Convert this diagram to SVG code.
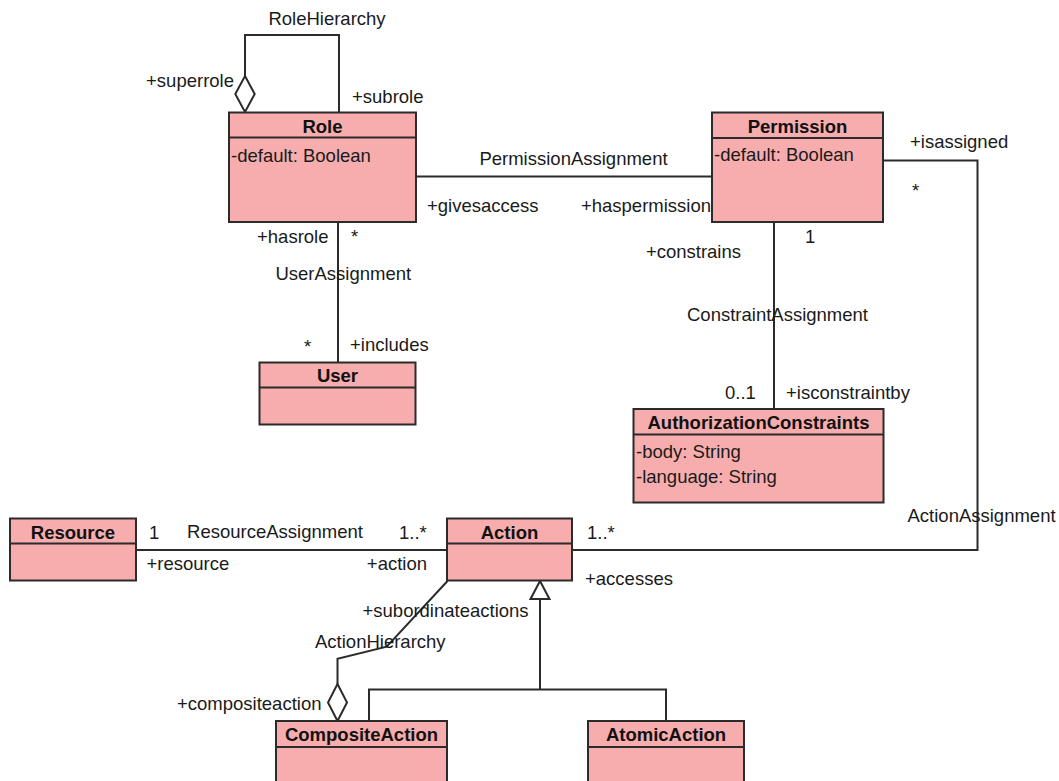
<svg xmlns="http://www.w3.org/2000/svg" width="1059" height="781" viewBox="0 0 1059 781">
<style>
.box{fill:#f7adad;stroke:#2b2b2b;stroke-width:2}
.div{stroke:#2b2b2b;stroke-width:2}
.ln{fill:none;stroke:#2b2b2b;stroke-width:2}
.hd{fill:#fff;stroke:#2b2b2b;stroke-width:2}
text{font-family:"Liberation Sans",Arial,sans-serif;font-size:18.5px;fill:#1a1a1a}
.t{font-weight:bold;text-anchor:middle;fill:#111}
.m{text-anchor:middle}
.e{text-anchor:end}
</style>
<rect width="1059" height="781" fill="#fff"/>
<g id="connectors">
<polyline class="ln" points="245,76 245,35 339,35 339,112.5"/>
<polygon class="hd" points="245,76 254.7,94 245,112 235.3,94"/>
<line class="ln" x1="416" y1="176.5" x2="712" y2="176.5"/>
<polyline class="ln" points="883,160.5 977.5,160.5 977.5,550 572,550"/>
<line class="ln" x1="774" y1="222" x2="774" y2="409"/>
<line class="ln" x1="338" y1="222" x2="338" y2="362.5"/>
<line class="ln" x1="136" y1="550" x2="447" y2="550"/>
<polyline class="ln" points="447.5,581 386.7,646.7 337.5,658.7 337.5,684"/>
<polygon class="hd" points="337.5,684 347,702.5 337.5,721 328,702.5"/>
<polyline class="ln" points="540,599 540,689.5"/>
<polyline class="ln" points="369,721 369,689.5 666,689.5 666,721"/>
<polygon class="hd" points="540,581 549.5,599 530.5,599"/>
<text class="m" x="327" y="25">RoleHierarchy</text>
<text class="e" x="234" y="87">+superrole</text>
<text x="352" y="103">+subrole</text>
<text class="m" x="573.5" y="165">PermissionAssignment</text>
<text x="427" y="212">+givesaccess</text>
<text class="e" x="711" y="212">+haspermission</text>
<text x="910" y="148">+isassigned</text>
<text x="912" y="197">*</text>
<text x="805" y="243">1</text>
<text class="e" x="741" y="258">+constrains</text>
<text class="m" x="777.5" y="321">ConstraintAssignment</text>
<text x="725" y="399">0..1</text>
<text x="786" y="399">+isconstraintby</text>
<text class="e" x="328.5" y="243">+hasrole</text>
<text x="351" y="243">*</text>
<text class="m" x="343.3" y="280">UserAssignment</text>
<text x="304" y="353">*</text>
<text x="350" y="351">+includes</text>
<text x="149" y="539">1</text>
<text class="m" x="275" y="538">ResourceAssignment</text>
<text x="399" y="539">1..*</text>
<text x="146.5" y="570">+resource</text>
<text class="e" x="427" y="570">+action</text>
<text x="587" y="539">1..*</text>
<text x="585" y="585">+accesses</text>
<text x="907.5" y="522">ActionAssignment</text>
<text x="362.5" y="617">+subordinateactions</text>
<text x="315" y="648">ActionHierarchy</text>
<text x="177" y="710">+compositeaction</text>
</g>
<g id="Role">
<rect class="box" x="229" y="112.5" width="187" height="109.5"/>
<line class="div" x1="229" y1="137.5" x2="416" y2="137.5"/>
<text class="t" x="322.5" y="133">Role</text>
<text x="231" y="162">-default: Boolean</text>
</g>
<g id="Permission">
<rect class="box" x="712" y="112.5" width="171" height="109.5"/>
<line class="div" x1="712" y1="138" x2="883" y2="138"/>
<text class="t" x="797.5" y="133">Permission</text>
<text x="714" y="161">-default: Boolean</text>
</g>
<g id="User">
<rect class="box" x="259.5" y="362.5" width="156" height="62"/>
<line class="div" x1="259.5" y1="387.5" x2="415.5" y2="387.5"/>
<text class="t" x="337.5" y="382">User</text>
</g>
<g id="AuthorizationConstraints">
<rect class="box" x="633.5" y="409" width="250" height="93.5"/>
<line class="div" x1="633.5" y1="434.5" x2="883.5" y2="434.5"/>
<text class="t" x="758.5" y="428.5">AuthorizationConstraints</text>
<text x="636" y="457.5">-body: String</text>
<text x="636" y="482.5">-language: String</text>
</g>
<g id="Resource">
<rect class="box" x="10" y="518.5" width="126" height="62"/>
<line class="div" x1="10" y1="543.5" x2="136" y2="543.5"/>
<text class="t" x="73" y="538.5">Resource</text>
</g>
<g id="Action">
<rect class="box" x="447" y="518.5" width="125" height="62"/>
<line class="div" x1="447" y1="543.5" x2="572" y2="543.5"/>
<text class="t" x="509.5" y="538.5">Action</text>
</g>
<g id="CompositeAction">
<rect class="box" x="276" y="721" width="171" height="75"/>
<line class="div" x1="276" y1="747" x2="447" y2="747"/>
<text class="t" x="361.5" y="741">CompositeAction</text>
</g>
<g id="AtomicAction">
<rect class="box" x="588" y="721" width="156" height="75"/>
<line class="div" x1="588" y1="747" x2="744" y2="747"/>
<text class="t" x="666" y="741">AtomicAction</text>
</g>
</svg>
